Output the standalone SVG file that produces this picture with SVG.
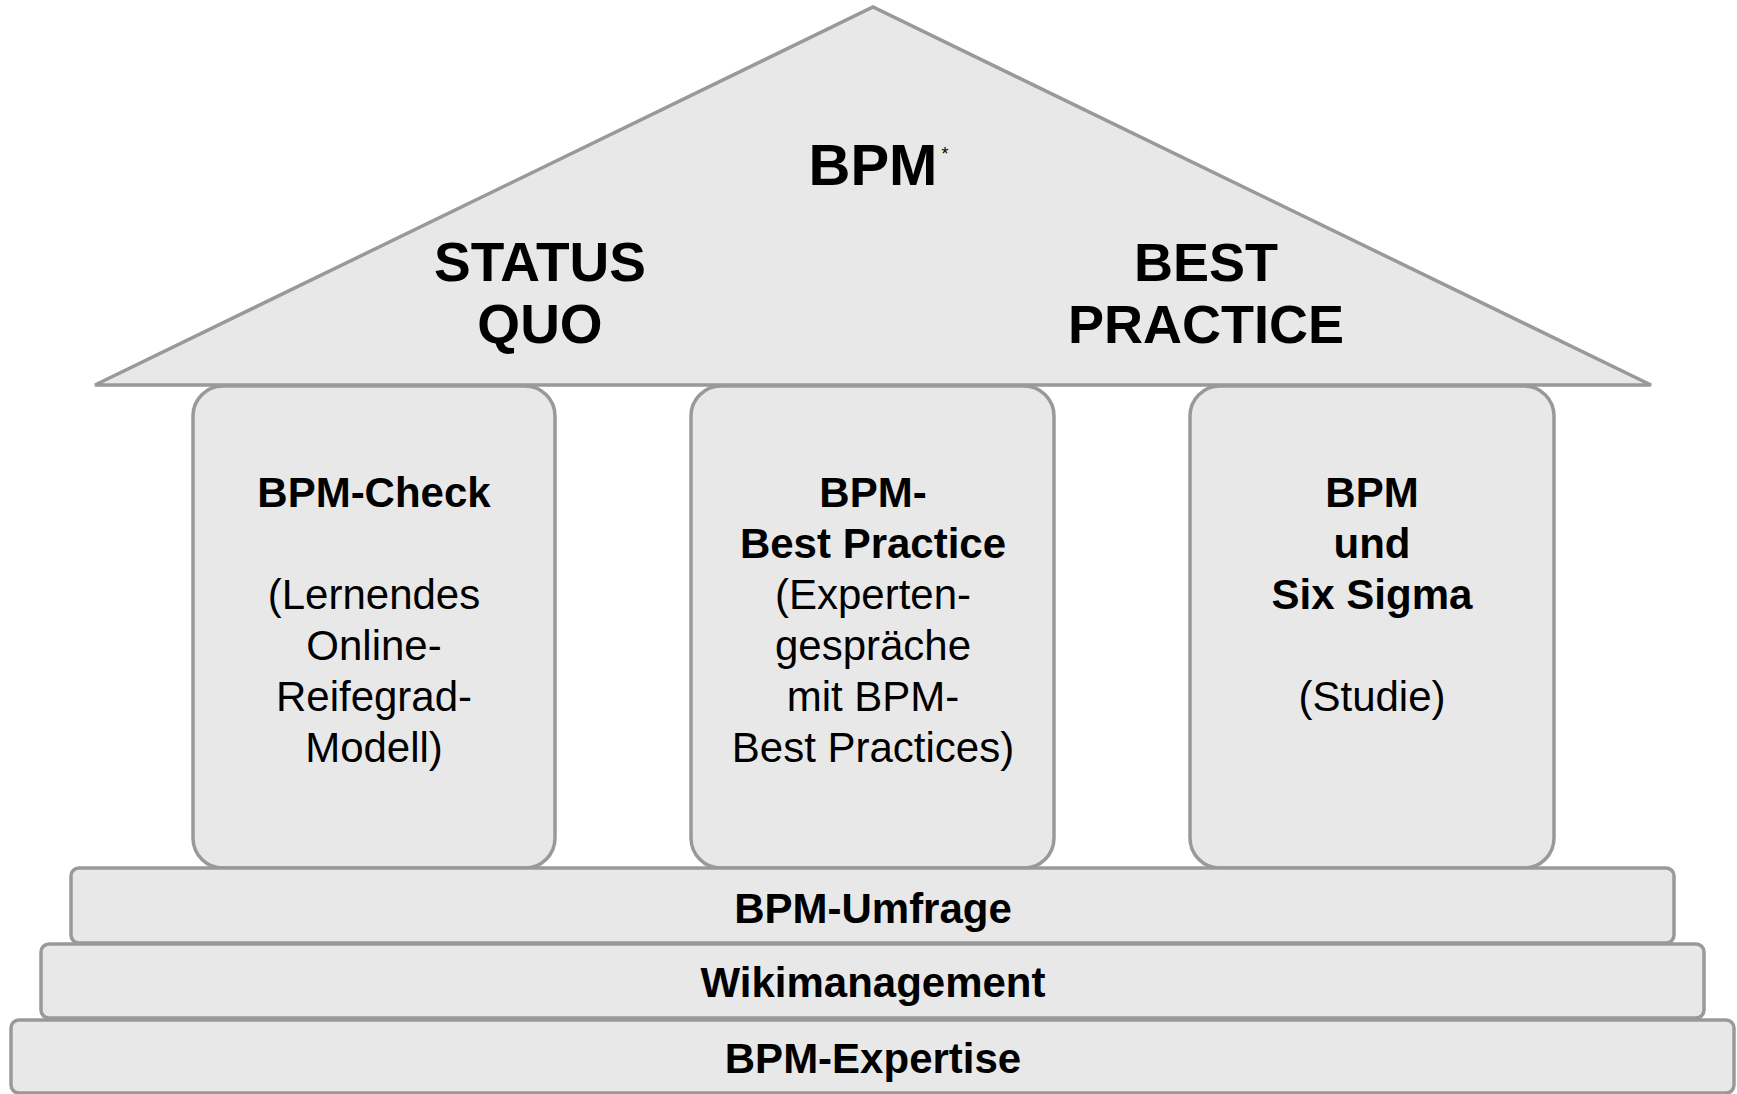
<svg xmlns="http://www.w3.org/2000/svg" width="1737" height="1094" viewBox="0 0 1737 1094">
<style>
.shape{fill:#e8e8e8;stroke:#999999;stroke-width:3.5}
text{font-family:"Liberation Sans",Arial,sans-serif;fill:#000;text-anchor:middle}
.b{font-weight:bold}
.t{font-size:42px}
.roof{font-size:55px;font-weight:bold}
</style>
<rect width="1737" height="1094" fill="#ffffff"/>
<g id="pillar-check">
<rect class="shape" x="193" y="386" width="362" height="482" rx="30"/>
<text class="t b" x="374" y="507">BPM-Check</text>
<text class="t" x="374" y="609">(Lernendes</text>
<text class="t" x="374" y="660">Online-</text>
<text class="t" x="374" y="711">Reifegrad-</text>
<text class="t" x="374" y="762">Modell)</text>
</g>
<g id="pillar-bestpractice">
<rect class="shape" x="691" y="386" width="363" height="482" rx="30"/>
<text class="t b" x="873" y="507">BPM-</text>
<text class="t b" x="873" y="558">Best Practice</text>
<text class="t" x="873" y="609">(Experten-</text>
<text class="t" x="873" y="660">gespräche</text>
<text class="t" x="873" y="711">mit BPM-</text>
<text class="t" x="873" y="762">Best Practices)</text>
</g>
<g id="pillar-sixsigma">
<rect class="shape" x="1190" y="386" width="364" height="482" rx="30"/>
<text class="t b" x="1372" y="507">BPM</text>
<text class="t b" x="1372" y="558">und</text>
<text class="t b" x="1372" y="609">Six Sigma</text>
<text class="t" x="1372" y="711">(Studie)</text>
</g>
<g id="roof">
<polygon class="shape" points="95,385 873,7 1651,385"/>
<text class="b" x="873" y="185" style="font-size:58px">BPM</text>
<text x="945" y="160" style="font-size:18px">*</text>
<text class="roof" x="540" y="281">STATUS</text>
<text class="roof" x="540" y="343">QUO</text>
<text class="roof" x="1206" y="281" style="font-size:54px">BEST</text>
<text class="roof" x="1206" y="343" style="font-size:54px">PRACTICE</text>
</g>
<g id="base-umfrage">
<rect class="shape" x="71" y="868" width="1603" height="75" rx="8"/>
<text class="t b" x="873" y="923">BPM-Umfrage</text>
</g>
<g id="base-wiki">
<rect class="shape" x="41" y="944" width="1663" height="74" rx="8"/>
<text class="t b" x="873" y="997">Wikimanagement</text>
</g>
<g id="base-expertise">
<rect class="shape" x="11" y="1020" width="1723" height="73" rx="8"/>
<text class="t b" x="873" y="1073">BPM-Expertise</text>
</g>
<g id="connectors"/>
</svg>
